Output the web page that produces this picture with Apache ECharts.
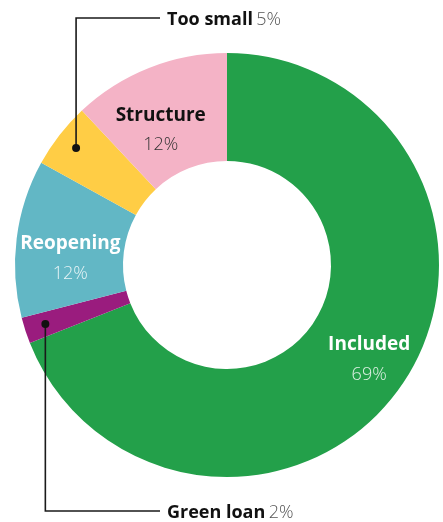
<!DOCTYPE html>
<html>
<head>
<meta charset="utf-8">
<script src="https://cdn.jsdelivr.net/npm/echarts@6/dist/echarts.min.js"></script>
<style>
  html, body { margin: 0; padding: 0; background: #fff; }
  #chart { width: 443px; height: 522px; }
</style>
</head>
<body>
<div id="chart"></div>
<script>
// Loan application outcomes, share of total (%)
const categories = ['Included', 'Green loan', 'Reopening', 'Too small', 'Structure'];
const shares = [69, 2, 12, 5, 12];
const palette = ['#23a04a', '#9a1c7e', '#62b7c5', '#ffcd45', '#f4b3c6'];

// Slices labelled inside the ring vs. with a leader line outside
const insideLabels = ['Included', 'Reopening', 'Structure'];
const darkText = ['Structure'];
// Small nudges for the inside labels (px)
const labelNudge = {
  'Included': [9, 4],
  'Reopening': [3, 14],
  'Structure': [-7, 15]
};

const CX = 227, CY = 265, R_IN = 104, R_OUT = 212;
const FONT = '"Open Sans", Lato, sans-serif';

const total = shares.reduce((a, b) => a + b, 0);
function midPoint(i, r) {
  const before = shares.slice(0, i).reduce((a, b) => a + b, 0);
  const frac = (before + shares[i] / 2) / total;
  const a = Math.PI / 2 - frac * 2 * Math.PI;
  return [CX + r * Math.cos(a), CY - r * Math.sin(a)];
}

// Outside label rows: y of the horizontal leader line
const outsideRows = { 'Too small': 18, 'Green loan': 511 };
const LEADER_END_X = 160;
const LABEL_X = 167;

const data = categories.map((name, i) => {
  const inside = insideLabels.includes(name);
  const dark = darkText.includes(name);
  return {
    name: name,
    value: shares[i],
    itemStyle: { color: palette[i] },
    label: inside ? {
      position: 'inside',
      formatter: '{n|{b}}\n{p|{c}%}',
      rich: {
        n: { fontFamily: FONT, fontSize: 19, fontWeight: 700, color: dark ? '#111' : '#fff', lineHeight: 30 },
        p: { fontFamily: FONT, fontSize: 18, fontWeight: 300, color: dark ? '#333' : 'rgba(255,255,255,0.85)', lineHeight: 30 }
      }
    } : {
      position: 'outside',
      formatter: '{n|{b}} {p|{c}%}',
      rich: {
        n: { fontFamily: FONT, fontSize: 18, fontWeight: 700, color: '#111' },
        p: { fontFamily: FONT, fontSize: 18, fontWeight: 300, color: '#555' }
      }
    },
    labelLine: { show: false }
  };
});

const graphics = [];
categories.forEach((name, i) => {
  if (!(name in outsideRows)) return;
  const [x, y] = midPoint(i, 191);
  const ly = outsideRows[name];
  graphics.push({
    type: 'polyline', z: 10,
    shape: { points: [[x, y], [x, ly], [LEADER_END_X, ly]] },
    style: { stroke: '#1a1a1a', lineWidth: 1.6, fill: null }
  });
  graphics.push({
    type: 'circle', z: 11,
    shape: { cx: x, cy: y, r: 4 },
    style: { fill: '#111' }
  });
});

const chart = echarts.init(document.getElementById('chart'));
chart.setOption({
  animation: false,
  series: [{
    type: 'pie',
    center: [CX, CY],
    radius: [R_IN, R_OUT],
    startAngle: 90,
    clockwise: true,
    avoidLabelOverlap: false,
    silent: true,
    data: data,
    labelLayout: function (params) {
      const name = categories[params.dataIndex];
      if (name in outsideRows) {
        return { x: LABEL_X, y: outsideRows[name] + 2, align: 'left', verticalAlign: 'middle' };
      }
      const n = labelNudge[name];
      return n ? { dx: n[0], dy: n[1] } : {};
    }
  }],
  graphic: graphics
});
</script>
</body>
</html>
